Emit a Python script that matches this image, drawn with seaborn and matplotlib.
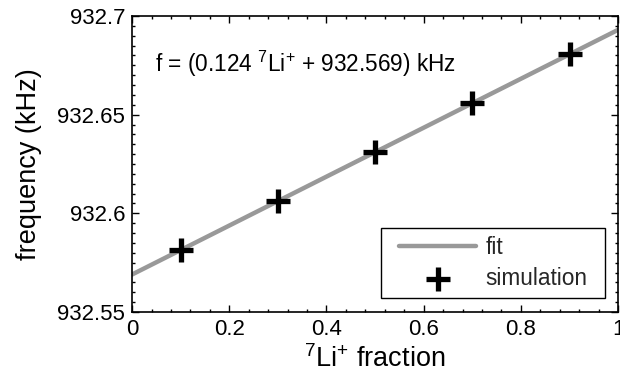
import numpy as np
import pandas as pd
import seaborn as sns
import matplotlib
matplotlib.use("Agg")
import matplotlib.pyplot as plt
from matplotlib.ticker import MultipleLocator
from matplotlib.path import Path

# data
fraction = [0.1, 0.3, 0.5, 0.7, 0.9]
frequency = [932.5814, 932.6062, 932.6310, 932.6558, 932.6806]
fit_x = [0.0, 1.0]
fit_y = [932.569, 932.693]
xticks = [0, 0.2, 0.4, 0.6, 0.8, 1]
yticks = [932.55, 932.6, 932.65, 932.7]
ytick_labels = ["932.55", "932.6", "932.65", "932.7"]
xtick_labels = ["0", "0.2", "0.4", "0.6", "0.8", "1"]

sns.set_theme(style="ticks")
plt.rcParams['font.family'] = ['Liberation Sans', 'DejaVu Sans']
plt.rcParams['mathtext.fontset'] = 'custom'
plt.rcParams['mathtext.rm'] = 'Liberation Sans'

fig = plt.figure(figsize=(6.2, 3.9), dpi=100)
ax = fig.add_axes([0.213, 0.2, 0.784, 0.759])

fit_df = pd.DataFrame({"x": fit_x, "y": fit_y})
sim_df = pd.DataFrame({"x": fraction, "y": frequency})

sns.lineplot(data=fit_df, x="x", y="y", ax=ax, color="#999999", linewidth=3.2, label="fit")
sns.scatterplot(data=sim_df, x="x", y="y", ax=ax, marker="+", s=280, color="black",
                linewidth=3.8, label="simulation", zorder=5)

ax.set_xlim(0, 1)
ax.set_ylim(932.55, 932.7)
ax.set_xticks(xticks)
ax.set_xticklabels(xtick_labels)
ax.set_yticks(yticks)
ax.set_yticklabels(ytick_labels)
ax.xaxis.set_minor_locator(MultipleLocator(0.04))
ax.yaxis.set_minor_locator(MultipleLocator(0.005))
ax.tick_params(which="both", direction="in", top=True, right=True, colors="black",
               labelsize=16, width=1)
ax.tick_params(which="major", length=5, pad=5)
ax.tick_params(which="minor", length=2.5)
for s in ax.spines.values():
    s.set_linewidth(1.2)
    s.set_color("black")

ax.set_xlabel(r"$^{7}$Li$^{+}$ fraction", fontsize=19.5, color="black", labelpad=4)
ax.set_ylabel("frequency (kHz)", fontsize=19.5, color="black", labelpad=11)

ax.text(0.047, 0.81, r"f = (0.124 $^{7}$Li$^{+}$ + 932.569) kHz", transform=ax.transAxes,
        fontsize=16.3, color="black", va="baseline")

leg = ax.legend(loc="lower right", bbox_to_anchor=(0.953, 0.047), fontsize=16.3,
                frameon=True, fancybox=False, edgecolor="black", framealpha=1,
                handlelength=3.4, handletextpad=0.4, borderpad=0.35,
                labelspacing=0.35, borderaxespad=0)
leg.get_frame().set_linewidth(1.0)


def wide_box(x0, y0, width, height, mutation_size):
    # rectangular legend frame with extra horizontal padding (in pixels)
    dx = 10
    x1 = x0 - dx
    x2 = x0 + width + dx
    y1 = y0
    y2 = y0 + height
    return Path([(x1, y1), (x2, y1), (x2, y2), (x1, y2), (x1, y1)], closed=True)


leg.get_frame().set_boxstyle(wide_box)

fig.savefig("out.png", dpi=100)
